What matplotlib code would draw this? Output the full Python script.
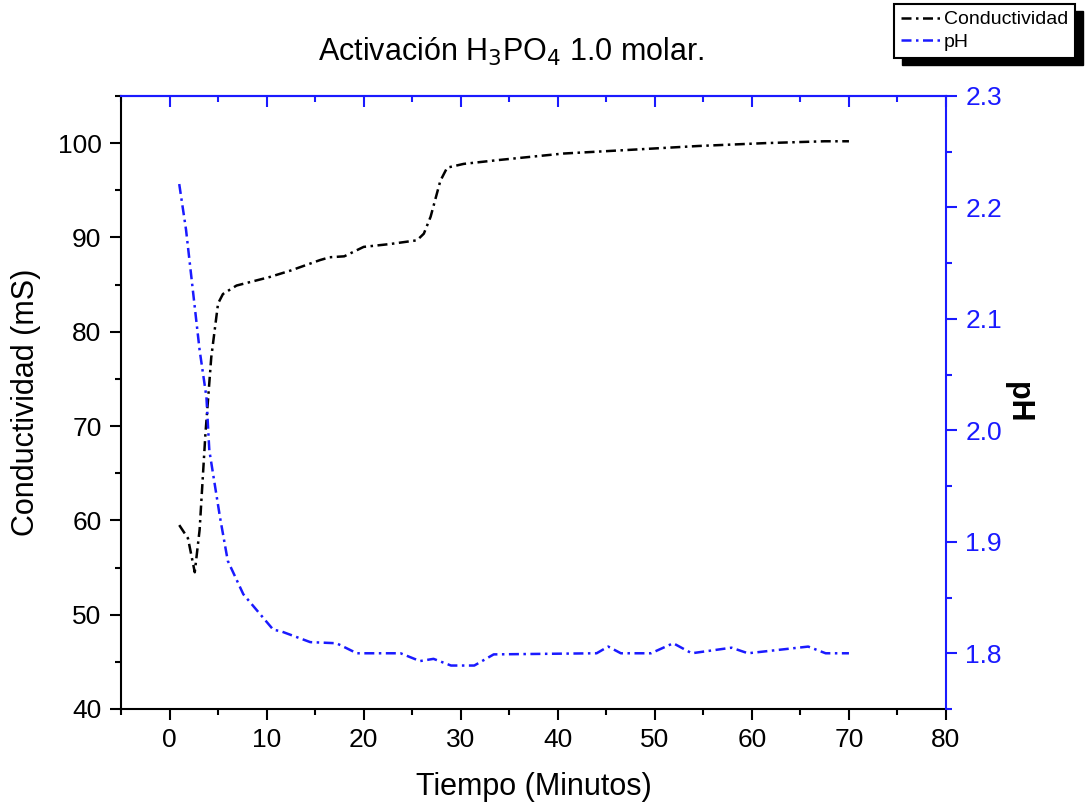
import numpy as np
import matplotlib
matplotlib.use("Agg")
import matplotlib.pyplot as plt
from matplotlib.patches import Rectangle
from matplotlib.ticker import MultipleLocator

plt.rcParams['font.family'] = ['Liberation Sans', 'DejaVu Sans']

# Conductividad (mS) vs tiempo (min)
t_cond = [1.0, 1.9, 2.6, 3.1, 3.7, 4.3, 5.0, 5.5, 6.9, 10.3, 12.5, 15.5, 16.5,
          18.0, 20.0, 22.7, 25.5, 26.2, 26.9, 27.9, 28.6, 30.3, 33.8, 40.6,
          47.6, 54.5, 61.3, 67.5, 70.0]
cond = [59.5, 58.1, 54.5, 59.0, 69.2, 77.3, 83.0, 84.0, 84.9, 85.8, 86.5, 87.6, 87.9,
        88.0, 89.0, 89.3, 89.7, 90.4, 92.2, 96.0, 97.4, 97.8, 98.2, 98.9,
        99.3, 99.7, 100.0, 100.2, 100.2]

# pH vs tiempo (min)
t_ph = [1.0, 1.7, 2.4, 3.1, 3.8, 4.1, 5.2, 6.0, 7.6, 10.7, 11.4, 14.5, 17.2,
        19.3, 23.8, 25.8, 27.2, 29.0, 31.4, 33.4, 44.0, 45.2, 46.5, 49.6,
        51.9, 53.8, 57.9, 59.6, 65.8, 67.6, 70.0]
ph = [2.221, 2.180, 2.126, 2.072, 2.030, 1.982, 1.922, 1.883, 1.853, 1.821, 1.820,
      1.810, 1.809, 1.800, 1.800, 1.793, 1.795, 1.789, 1.789, 1.799, 1.800,
      1.806, 1.800, 1.800, 1.809, 1.800, 1.805, 1.800, 1.806, 1.800, 1.800]

blue = "#1a1aff"

fig = plt.figure(figsize=(10.85, 8.08), dpi=100)
ax = fig.add_axes([121/1085, 99/808, 825/1085, 613/808])
ax2 = ax.twinx()

l1, = ax.plot(t_cond, cond, color="k", lw=1.8, dashes=(4, 1.8, 1, 1.8))
l2, = ax2.plot(t_ph, ph, color=blue, lw=1.8, dashes=(4, 1.8, 1, 1.8))

ax.set_xlim(-5, 80)
ax.set_ylim(40, 105)
ax2.set_ylim(1.75, 2.3)

ax.xaxis.set_major_locator(MultipleLocator(10))
ax.xaxis.set_minor_locator(MultipleLocator(5))
ax.yaxis.set_major_locator(MultipleLocator(10))
ax.yaxis.set_minor_locator(MultipleLocator(5))
ax2.yaxis.set_major_locator(MultipleLocator(0.1))
ax2.yaxis.set_minor_locator(MultipleLocator(0.05))

for sp in ["left", "bottom"]:
    ax.spines[sp].set_linewidth(1.5)
for sp in ["top", "right"]:
    ax2.spines[sp].set_color(blue)
    ax2.spines[sp].set_linewidth(1.5)
ax2.spines["left"].set_visible(False)
ax2.spines["bottom"].set_visible(False)
ax.spines["top"].set_visible(False)
ax.spines["right"].set_visible(False)

ax.tick_params(axis="both", which="major", direction="out", length=8, width=1.5,
               labelsize=19, colors="k", pad=6)
ax.tick_params(axis="both", which="minor", direction="out", length=4, width=1.5)
ax2.tick_params(axis="y", which="major", direction="out", length=8, width=1.5,
                labelsize=19, colors=blue, pad=6)
ax2.tick_params(axis="y", which="minor", direction="out", length=4, width=1.5, colors=blue)

# ticks on the top (blue, inward)
axt = ax.secondary_xaxis("top")
axt.xaxis.set_major_locator(MultipleLocator(10))
axt.xaxis.set_minor_locator(MultipleLocator(5))
axt.tick_params(axis="x", which="major", direction="in", length=8, width=1.5,
                colors=blue, labeltop=False)
axt.tick_params(axis="x", which="minor", direction="in", length=4, width=1.5, colors=blue)
axt.spines["top"].set_color(blue)
axt.spines["top"].set_linewidth(1.5)

ax.set_xlabel("Tiempo (Minutos)", fontsize=22, labelpad=14)
ax.set_ylabel("Conductividad (mS)", fontsize=22, labelpad=12)
ax2.set_ylabel("pH", fontsize=22, fontweight="bold", rotation=270, labelpad=22)

fig.text(511/1085, 1 - 52/808, "Activación H$_3$PO$_4$ 1.0 molar.",
         fontsize=22, ha="center", va="center")

# legend with a solid black shadow, as in the original
leg = fig.legend([l1, l2], ["Conductividad", "pH"], loc="upper left",
                 bbox_to_anchor=(894/1085, 1 - 4/808), fontsize=14, frameon=True,
                 fancybox=False, shadow=False, framealpha=1, borderpad=0.35,
                 handlelength=2.0, handletextpad=0.2, labelspacing=0.25,
                 borderaxespad=0)
leg.get_frame().set_edgecolor("k")
leg.get_frame().set_linewidth(1.5)
leg.get_frame().set_facecolor("white")
leg.set_zorder(5)

fig.canvas.draw()
bb = leg.get_window_extent().transformed(fig.transFigure.inverted())
fig.patches.append(Rectangle((bb.x0 + 8/1085, bb.y0 - 7/808), bb.width, bb.height,
                             transform=fig.transFigure, facecolor="k", edgecolor="k",
                             zorder=1))

plt.savefig("out.png", dpi=100)
plt.close()
